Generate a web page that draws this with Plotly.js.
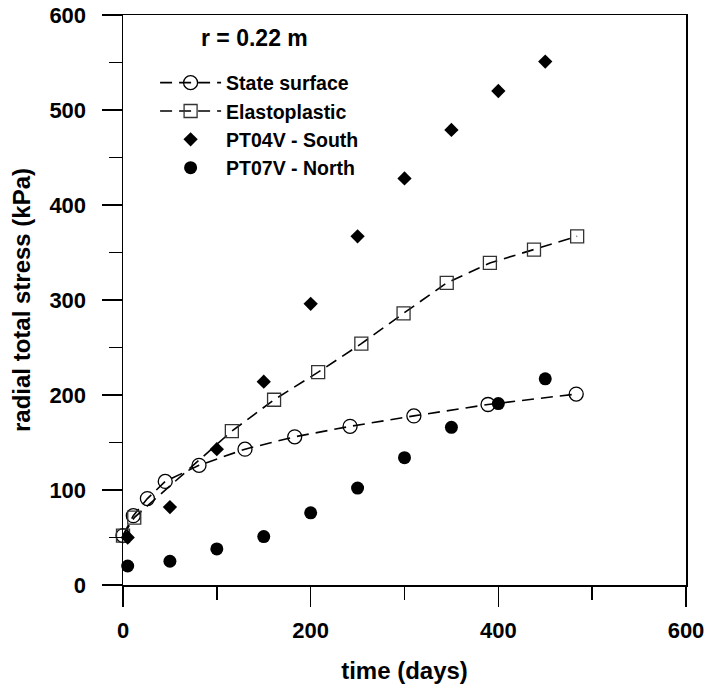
<!DOCTYPE html>
<html>
<head>
<meta charset="utf-8">
<script src="https://cdn.plot.ly/plotly-3.0.1.min.js"></script>
<style>
html,body{margin:0;padding:0;background:#fff;}
#chart{width:705px;height:689px;}
</style>
</head>
<body>
<div id="chart"></div>
<script>
// Model predictions
const stateDays   = [0, 11, 26, 45, 81, 130, 183, 242, 310, 389, 483];
const stateStress = [52, 73, 91, 109, 126, 143, 156, 167, 178, 190, 201];
const elastoDays   = [0, 12, 116, 161, 208, 254, 299, 345, 391, 438, 484];
const elastoStress = [52, 71, 162, 195, 224, 254, 286, 318, 339, 353, 367];
// Measurements
const measDays  = [5, 50, 100, 150, 200, 250, 300, 350, 400, 450];
const pt04South = [50, 82, 143, 214, 296, 367, 428, 479, 520, 551];
const pt07North = [20, 25, 38, 51, 76, 102, 134, 166, 191, 217];

const xTicks = [0, 200, 400, 600];
const yTicks = [0, 100, 200, 300, 400, 500, 600];

const FONT = 'Arial, "Liberation Sans", sans-serif';
const dashLine = {color: '#000', width: 1.6, dash: '12px,7px'};

const traces = [
  {x: stateDays, y: stateStress, name: 'State surface', type: 'scatter', mode: 'lines+markers',
   line: dashLine, cliponaxis: false,
   marker: {symbol: 'circle-open', size: 14, color: '#000', line: {width: 1.3, color: '#000'}}},
  {x: elastoDays, y: elastoStress, name: 'Elastoplastic', type: 'scatter', mode: 'lines+markers',
   line: dashLine, cliponaxis: false,
   marker: {symbol: 'square-open', size: 13, color: '#333', line: {width: 1.3, color: '#333'}}},
  {x: measDays, y: pt04South, name: 'PT04V - South', type: 'scatter', mode: 'markers', cliponaxis: false,
   marker: {symbol: 'diamond', size: 11, color: '#000'}},
  {x: measDays, y: pt07North, name: 'PT07V - North', type: 'scatter', mode: 'markers', cliponaxis: false,
   marker: {symbol: 'circle', size: 13, color: '#000'}}
];

const layout = {
  width: 705, height: 689,
  margin: {l: 123, r: 19, t: 15, b: 104},
  paper_bgcolor: '#fff', plot_bgcolor: '#fff',
  font: {family: FONT, color: '#000', weight: 'bold'},
  showlegend: true,
  legend: {x: 0.057, y: 0.915, xanchor: 'left', yanchor: 'top',
    bgcolor: 'rgba(0,0,0,0)', borderwidth: 0, itemwidth: 61,
    font: {family: FONT, size: 19.5, color: '#000', weight: 'bold'}, tracegroupgap: 0},
  annotations: [{text: 'r = 0.22 m', xref: 'paper', yref: 'paper', x: 0.233, y: 0.96,
    xanchor: 'center', yanchor: 'middle', showarrow: false,
    font: {family: FONT, size: 23, color: '#000', weight: 'bold'}}],
  xaxis: {
    range: [0, 600], tickvals: xTicks, ticktext: xTicks.map(String),
    ticks: 'outside', ticklen: 20, tickwidth: 1.5, tickcolor: '#000',
    minor: {dtick: 100, tick0: 0, ticks: 'outside', ticklen: 13, tickwidth: 1.5, tickcolor: '#000', showgrid: false},
    showline: true, linecolor: '#000', linewidth: 1.5, mirror: true,
    showgrid: false, zeroline: false, ticklabelstandoff: 5, ticklabeloverflow: 'allow',
    tickfont: {family: FONT, size: 22, color: '#000', weight: 'bold'},
    title: {text: 'time (days)', standoff: 20, font: {family: FONT, size: 24, color: '#000', weight: 'bold'}}
  },
  yaxis: {
    range: [0, 600], tickvals: yTicks, ticktext: yTicks.map(String),
    ticks: 'outside', ticklen: 20, tickwidth: 1.5, tickcolor: '#000',
    minor: {dtick: 50, tick0: 0, ticks: 'outside', ticklen: 13, tickwidth: 1.5, tickcolor: '#000', showgrid: false},
    showline: true, linecolor: '#000', linewidth: 1.5, mirror: true,
    showgrid: false, zeroline: false, ticklabelstandoff: 11, ticklabeloverflow: 'allow',
    tickfont: {family: FONT, size: 22, color: '#000', weight: 'bold'},
    title: {text: 'radial total stress (kPa)', standoff: 12, font: {family: FONT, size: 24, color: '#000', weight: 'bold'}}
  }
};

Plotly.newPlot('chart', traces, layout, {displayModeBar: false, staticPlot: true});
</script>
</body>
</html>
